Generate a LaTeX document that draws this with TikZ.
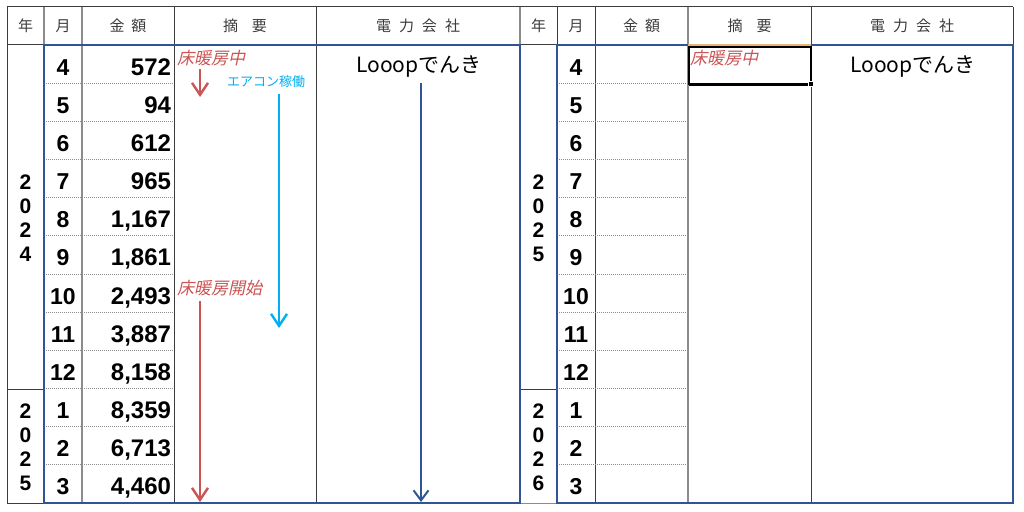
\documentclass[tikz,border=0pt]{standalone}
\usepackage{fontspec}
\setmainfont{Liberation Sans}
\newfontfamily\jp{Noto Sans CJK JP}
\newfontfamily\jpit[FakeSlant=0.22]{Noto Sans CJK JP}
\usetikzlibrary{arrows.meta}
\definecolor{bl}{RGB}{47,85,151}
\definecolor{rd}{RGB}{204,84,84}
\definecolor{cy}{RGB}{0,176,240}
\definecolor{gl}{RGB}{60,60,60}
\definecolor{gr}{RGB}{140,140,140}
\definecolor{og}{RGB}{230,180,120}
\tikzset{
  txt/.style={inner sep=0pt, outer sep=0pt},
  hdr/.style={txt, font=\jp\fontsize{15}{15}\selectfont, text=gl},
  mon/.style={txt, anchor=base, font=\bfseries\fontsize{23}{23}\selectfont},
  amt/.style={txt, anchor=base east, font=\bfseries\fontsize{24}{24}\selectfont},
  yr/.style={txt, align=center, font=\bfseries\fontsize{21}{24}\selectfont},
  note/.style={txt, anchor=west, font=\jpit\fontsize{17}{17}\selectfont, text=rd},
  cnote/.style={txt, anchor=west, font=\jp\fontsize{13}{13}\selectfont, text=cy},
  co/.style={txt, font=\jp\fontsize{21}{21}\selectfont},
  thin/.style={draw=gl, line width=1pt},
  grayl/.style={draw=gr, line width=1.6pt},
  dotl/.style={draw=gr, line width=0.9pt, dash pattern=on 1pt off 1pt},
  box/.style={draw=bl, line width=2.8pt},
  arr/.style={-{Straight Barb[length=12pt,width=16pt]}, line width=2.4pt},
}
\begin{document}
\begin{tikzpicture}[x=1pt,y=-1pt]
\useasboundingbox (0,0) rectangle (1024,511);
\fill[white] (0,0) rectangle (1024,511);

% ---------- grid lines ----------
\draw[thin] (7,7) -- (1013,7);
\draw[thin] (7,7) -- (7,503);
\draw[thin] (7,45) -- (44,45);
\draw[thin] (7,389) -- (44,389);
\draw[thin] (7,503) -- (44,503);
\draw[grayl] (44,7) -- (44,45);
\draw[grayl] (82,7) -- (82,503);
\draw[thin] (174,7) -- (174,503);
\draw[thin] (316,7) -- (316,503);
\draw[grayl] (520,7) -- (520,45);
\draw[thin] (520,45) -- (557,45);
\draw[thin] (520,389) -- (557,389);
\draw[draw=gr, line width=1pt] (520,503) -- (557,503);
\draw[thin] (557,7) -- (557,45);
\draw[thin] (595,7) -- (595,503);
\draw[grayl] (688,7) -- (688,503);
\draw[thin] (811,7) -- (811,503);
\draw[thin] (1013,7) -- (1013,45);

% dotted row lines
\foreach \i in {1,...,11}{
  \draw[dotl] (44,{45+\i*38.167}) -- (174,{45+\i*38.167});
  \draw[dotl] (557,{45+\i*38.167}) -- (688,{45+\i*38.167});
}

% blue frames
\draw[box] (44,45) rectangle (520,503);
\draw[box] (557,45) rectangle (1013,503);

% ---------- headers ----------
\node[hdr] (hy1) at (25.5,26) {年};
\node[hdr] (hm1) at (63,26) {月};
\node[hdr] (ha1) at (128,26) {金\hspace{7pt}額};
\node[hdr] (hs1) at (245,26) {摘\hspace{14pt}要};
\node[hdr] (hc1) at (418,26) {電\hspace{8pt}力\hspace{8pt}会\hspace{8pt}社};
\node[hdr] (hy2) at (538.5,26) {年};
\node[hdr] (hm2) at (576,26) {月};
\node[hdr] (ha2) at (641.5,26) {金\hspace{7pt}額};
\node[hdr] (hs2) at (749.5,26) {摘\hspace{14pt}要};
\node[hdr] (hc2) at (912,26) {電\hspace{8pt}力\hspace{8pt}会\hspace{8pt}社};

% ---------- months ----------
\foreach \m [count=\i] in {4,5,6,7,8,9,10,11,12,1,2,3}{
  \node[mon] (ma\i) at (63,{45+(\i-0.5)*38.167+11}) {\m};
  \node[mon] (mb\i) at (576,{45+(\i-0.5)*38.167+11}) {\m};
}

% ---------- amounts ----------
\node[amt] (a1) at (171,{45+0.5*38.167+11}) {572};
\node[amt] (a2) at (171,{45+1.5*38.167+11}) {94};
\node[amt] (a3) at (171,{45+2.5*38.167+11}) {612};
\node[amt] (a4) at (171,{45+3.5*38.167+11}) {965};
\node[amt] (a5) at (171,{45+4.5*38.167+11}) {1,167};
\node[amt] (a6) at (171,{45+5.5*38.167+11}) {1,861};
\node[amt] (a7) at (171,{45+6.5*38.167+11}) {2,493};
\node[amt] (a8) at (171,{45+7.5*38.167+11}) {3,887};
\node[amt] (a9) at (171,{45+8.5*38.167+11}) {8,158};
\node[amt] (a10) at (171,{45+9.5*38.167+11}) {8,359};
\node[amt] (a11) at (171,{45+10.5*38.167+11}) {6,713};
\node[amt] (a12) at (171,{45+11.5*38.167+11}) {4,460};

% ---------- years ----------
\node[yr] (y1) at (25.5,218) {2\\0\\2\\4};
\node[yr] (y2) at (25.5,447) {2\\0\\2\\5};
\node[yr] (y3) at (538.5,218) {2\\0\\2\\5};
\node[yr] (y4) at (538.5,447) {2\\0\\2\\6};

% ---------- company ----------
\node[co] (c1) at (419,67) {Looopでんき};
\node[co] (c2) at (913,67) {Looopでんき};

% ---------- notes ----------
\node[note] (n1) at (177,58.5) {床暖房中};
\node[cnote] (n2) at (227,82) {エアコン稼働};
\node[note] (n3) at (177,288.5) {床暖房開始};
\node[note] (n4) at (690,58.5) {床暖房中};

% ---------- arrows ----------
\coordinate (r1s) at (200,69);
\coordinate (r1e) at (200,97);
\coordinate (cys) at (279,94);
\coordinate (cye) at (279,328);
\coordinate (r2s) at (200,301);
\coordinate (r2e) at (200,502);
\coordinate (bls) at (421,83);
\coordinate (ble) at (421,502);
\draw[arr, rd] (r1s) -- (r1e);
\draw[arr, cy] (cys) -- (cye);
\draw[arr, rd] (r2s) -- (r2e);
\draw[-{Straight Barb[length=10pt,width=15pt]}, line width=2pt, bl] (bls) -- (ble);

% ---------- selected cell ----------
\draw[og, line width=2pt] (688,45) -- (811,45);
\draw[black, line width=1.2pt] (689,47) rectangle (811,84);
\draw[black, line width=3pt] (689,84) -- (809,84);
\fill[black, draw=white, line width=0.8pt] (808.5,81.5) rectangle (813.5,86.5);
\end{tikzpicture}
\end{document}
